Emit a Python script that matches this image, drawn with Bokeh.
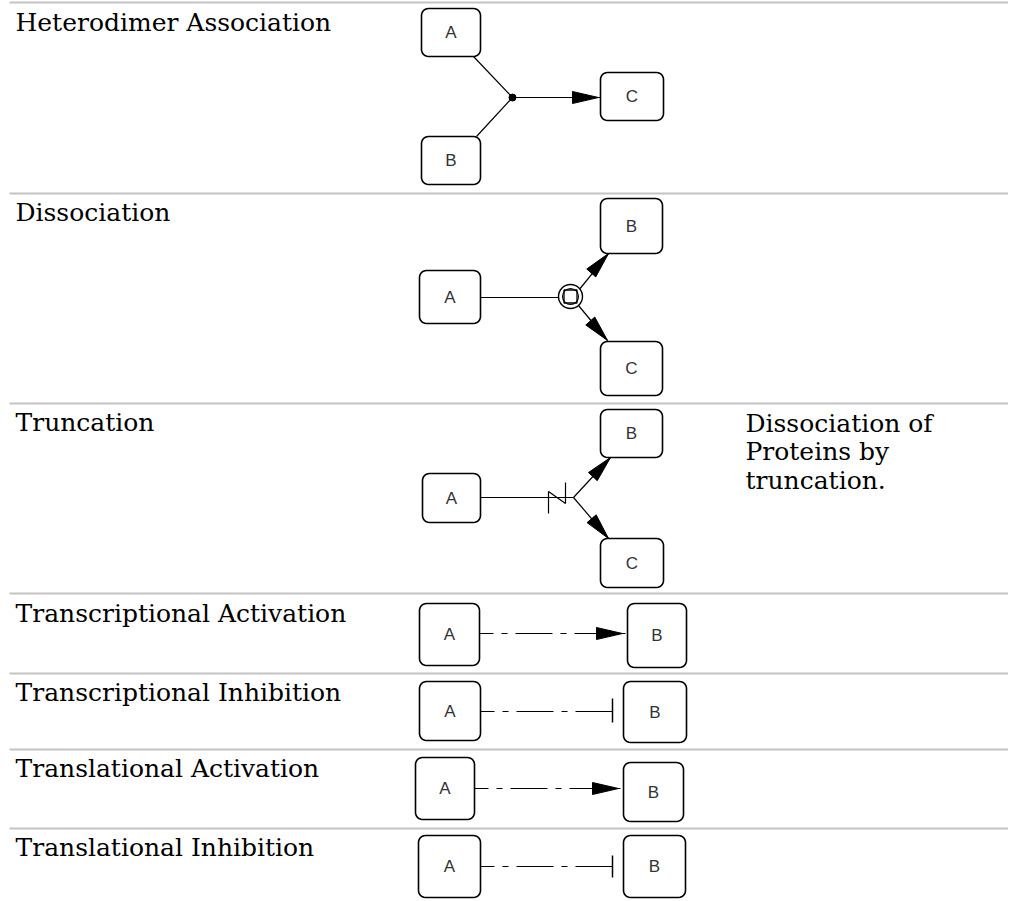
import numpy as np
from bokeh.plotting import figure
from bokeh.models import Range1d
from bokeh.core.properties import value
from bokeh.embed import file_html
from bokeh.resources import INLINE

# ---------------- data ----------------
row_labels = ["Heterodimer Association", "Dissociation", "Truncation",
              "Transcriptional Activation", "Transcriptional Inhibition",
              "Translational Activation", "Translational Inhibition"]
rule_y = [2, 193, 403, 593, 673, 749, 828]
label_y = [22, 212, 422, 613, 692, 768, 847]

desc_lines = ["Dissociation of", "Proteins by", "truncation."]
desc_y = [423, 451, 480]

# boxes: left, right, top, bottom, letter
box_l = [421, 421, 600, 419, 600, 600, 422, 600, 600, 419, 627, 419, 623, 415, 623, 418, 623]
box_r = [480, 480, 663, 480, 662, 662, 480, 662, 663, 479, 686, 480, 686, 474, 683, 480, 685]
box_t = [8, 136, 72, 270, 198, 341, 473, 409, 538, 603, 603, 681, 681, 757, 762, 835, 835]
box_b = [56, 184, 120, 323, 253, 395, 522, 457, 587, 665, 667, 740, 742, 819, 821, 897, 897]
box_txt = ["A", "B", "C", "A", "B", "C", "A", "B", "C", "A", "B", "A", "B", "A", "B", "A", "B"]

# solid connector segments
seg_x0 = [473, 476, 512, 480, 578, 578, 480, 573, 573, 548, 548, 565]
seg_y0 = [56, 136, 97, 297, 290, 305, 497, 497, 497, 491, 491, 482]
seg_x1 = [512, 512, 600, 558, 608, 607, 573, 610, 608, 548, 565, 565]
seg_y1 = [97, 97, 97, 297, 253, 340, 497, 457, 538, 513, 503, 503]

# dash-dot connectors (rows 4-7)
dd_x0 = [479, 480, 474, 480]
dd_x1 = [627, 612, 623, 612]
dd_y = [633, 711, 788, 866]

# inhibition bars
bar_x = [612, 612]
bar_y0 = [698, 855]
bar_y1 = [722, 877]

# arrowheads: tip and a point behind it (direction)
arr_tip_x = [598, 608, 607, 610, 608, 622, 618]
arr_tip_y = [97, 253, 340, 457, 538, 633, 788]
arr_from_x = [512, 569, 569, 573, 573, 479, 474]
arr_from_y = [97, 297, 297, 497, 497, 633, 788]

# association dot / dissociation symbol
dot_x, dot_y = [512], [97]
dis_x, dis_y = [570], [296]

# ---------------- figure ----------------
W, H = 1008, 899
p = figure(width=W, height=H, output_backend="svg", toolbar_location=None,
           x_range=Range1d(0, W), y_range=Range1d(H, 0),
           min_border=0, margin=0)
p.axis.visible = False
p.grid.visible = False
p.outline_line_color = None
p.background_fill_color = "white"
p.border_fill_color = "white"

# rules
p.segment(x0=[9] * len(rule_y), x1=[W] * len(rule_y), y0=rule_y, y1=rule_y,
          line_color="#c3c3c3", line_width=2)

# labels
serif = value("DejaVu Serif")
p.text(x=[15] * len(row_labels), y=label_y, text=row_labels, text_font=serif,
       text_font_size="25px", text_baseline="alphabetic", text_align="left",
       text_color="black")
p.text(x=[745] * len(desc_lines), y=desc_y, text=desc_lines, text_font=serif,
       text_font_size="25px", text_baseline="alphabetic", text_align="left",
       text_color="black")

# connectors
p.segment(x0=seg_x0, y0=seg_y0, x1=seg_x1, y1=seg_y1, line_color="black", line_width=1.2)
p.segment(x0=dd_x0, x1=dd_x1, y0=dd_y, y1=dd_y, line_color="black", line_width=1.2,
          line_dash="37 8 6 8", line_dash_offset=23)
p.segment(x0=bar_x, x1=bar_x, y0=bar_y0, y1=bar_y1, line_color="black", line_width=1.5)

# arrowheads
L, HW = 26, 6
ax, ay = [], []
for tx, ty, fx, fy in zip(arr_tip_x, arr_tip_y, arr_from_x, arr_from_y):
    d = np.array([tx - fx, ty - fy], dtype=float)
    d /= np.hypot(*d)
    n = np.array([-d[1], d[0]])
    base = np.array([tx, ty]) - L * d
    pts = [np.array([tx, ty]), base + HW * n, base - HW * n]
    ax.append([q[0] for q in pts])
    ay.append([q[1] for q in pts])
p.patches(ax, ay, fill_color="black", line_color="black", line_width=1)

# symbols
p.scatter(dot_x, dot_y, size=7, color="black")
p.scatter(dis_x, dis_y, size=24, marker="circle", fill_color="white", line_color="black", line_width=1.4)
p.scatter(dis_x, dis_y, size=13, marker="square", fill_color="white", line_color="black", line_width=1.3)
p.scatter(dis_x, dis_y, size=16, marker="circle", fill_alpha=0, line_color="black", line_width=1.1)

# rounded boxes
def rounded(l, r, t, b, rad=7):
    xs, ys = [], []
    corners = [(r - rad, t + rad, -90, 0), (r - rad, b - rad, 0, 90),
               (l + rad, b - rad, 90, 180), (l + rad, t + rad, 180, 270)]
    for cx, cy, a0, a1 in corners:
        ang = np.radians(np.linspace(a0, a1, 8))
        xs.extend(cx + rad * np.cos(ang))
        ys.extend(cy + rad * np.sin(ang))
    return list(xs), list(ys)

bxs, bys = [], []
for l, r, t, b in zip(box_l, box_r, box_t, box_b):
    xs, ys = rounded(l, r, t, b)
    bxs.append(xs)
    bys.append(ys)
p.patches(bxs, bys, fill_color="white", line_color="black", line_width=1.6)

cx = [(l + r) / 2 for l, r in zip(box_l, box_r)]
cy = [(t + b) / 2 for t, b in zip(box_t, box_b)]
p.text(x=cx, y=cy, text=box_txt, text_font=value("Liberation Sans"),
       text_font_size="17px", text_align="center", text_baseline="middle",
       text_color="#333333")

open("out.html", "w").write(file_html(p, INLINE))
